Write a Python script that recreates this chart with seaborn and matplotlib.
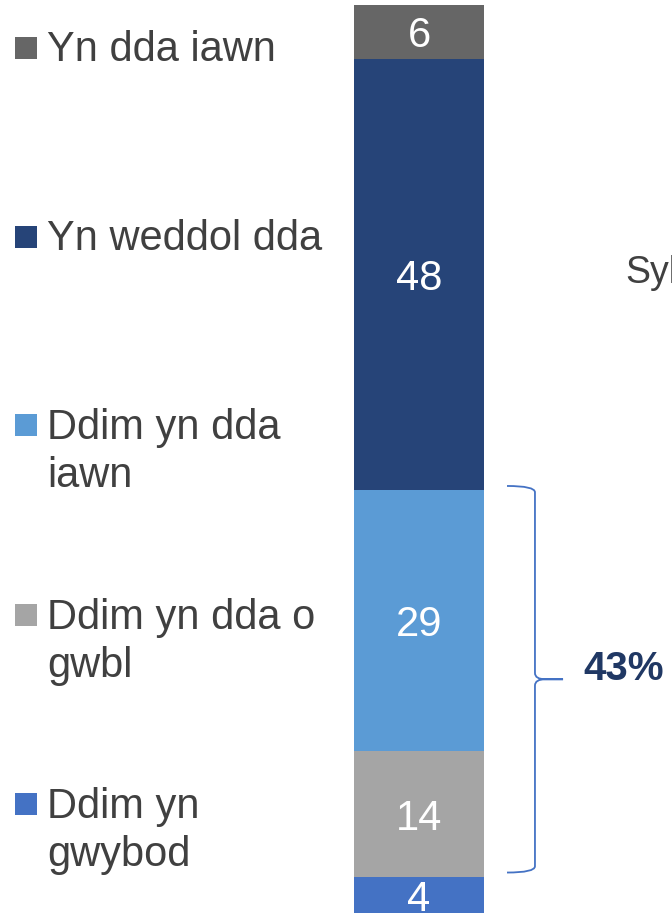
import pandas as pd
import seaborn as sns
import matplotlib.pyplot as plt
from matplotlib.path import Path
from matplotlib.patches import PathPatch, Rectangle

# data, bottom of the stack first
categories = ["Ddim yn\ngwybod", "Ddim yn dda o\ngwbl", "Ddim yn dda\niawn", "Yn weddol dda", "Yn dda iawn"]
values = [4, 14, 29, 48, 6]
colours = ["#4472C4", "#A5A5A5", "#5B9BD5", "#264478", "#666666"]
brace_label = "43%"
side_note = "Syl"

sns.set_style("white")
plt.rcParams["font.family"] = ["Liberation Sans", "DejaVu Sans"]

df = pd.DataFrame({"cat": categories, "val": values})
df["top"] = df["val"].cumsum()
df["bottom"] = df["top"] - df["val"]

W, H = 672, 913
fig = plt.figure(figsize=(W / 100, H / 100), dpi=100)
ax = fig.add_axes([0, 0, 1, 908 / H])

# stacked bar: tallest cumulative first, each next one drawn over it
for i in reversed(range(len(df))):
    sns.barplot(x=["q"], y=[df["top"][i]], color=colours[i], width=1,
                saturation=1, linewidth=0, ax=ax)

for _, r in df.iterrows():
    ax.text(0, r["bottom"] + r["val"] / 2, str(r["val"]), ha="center", va="center_baseline",
            color="white", fontsize=30)

ax.set_xlim(-0.5 - 354 / 130, 0.5 + 188 / 130)
ax.set_ylim(0, df["top"].iloc[-1])
ax.axis("off")

# brace over the two "not good" segments
y_lo = df["bottom"][1] + 0.5
y_hi = df["top"][2] + 0.5
y_mid = (y_lo + y_hi) / 2
x_tip, x_sp, x_mid = 0.677, 0.892, 1.108
r = 0.7
verts = [(x_tip, y_hi), (x_sp, y_hi), (x_sp, y_hi - r),
         (x_sp, y_mid + r), (x_sp, y_mid), (x_sp + 0.08, y_mid),
         (x_mid, y_mid), (x_sp + 0.08, y_mid),
         (x_sp, y_mid), (x_sp, y_mid - r),
         (x_sp, y_lo + r), (x_sp, y_lo), (x_tip, y_lo)]
codes = [Path.MOVETO, Path.CURVE3, Path.CURVE3,
         Path.LINETO, Path.CURVE3, Path.CURVE3,
         Path.LINETO, Path.LINETO,
         Path.CURVE3, Path.CURVE3,
         Path.LINETO, Path.CURVE3, Path.CURVE3]
ax.add_patch(PathPatch(Path(verts, codes), fill=False, edgecolor="#4472C4", lw=1.3))
ax.text(1.262, y_mid + 1.6, brace_label, ha="left", va="center_baseline",
        fontsize=29, fontweight="bold", color="#203864")

# legend on the left, top entry first; va=baseline sits on the last line
baselines = [61, 250, 438, 628, 817]
line_gap = 49
for k, i in enumerate(reversed(range(len(df)))):
    b = baselines[k]
    label = df["cat"][i]
    last = b + line_gap * label.count("\n")
    fig.patches.append(Rectangle((15 / W, 1 - (b - 2) / H), 22 / W, 22 / H,
                                 transform=fig.transFigure, color=colours[i], lw=0))
    fig.text(47 / W, 1 - last / H, label, ha="left", va="baseline",
             fontsize=30, color="#404040", linespacing=1.25)

fig.text(625 / W, 1 - 283 / H, side_note, ha="left", va="baseline", fontsize=27, color="#404040")

fig.savefig("out.png", dpi=100)
